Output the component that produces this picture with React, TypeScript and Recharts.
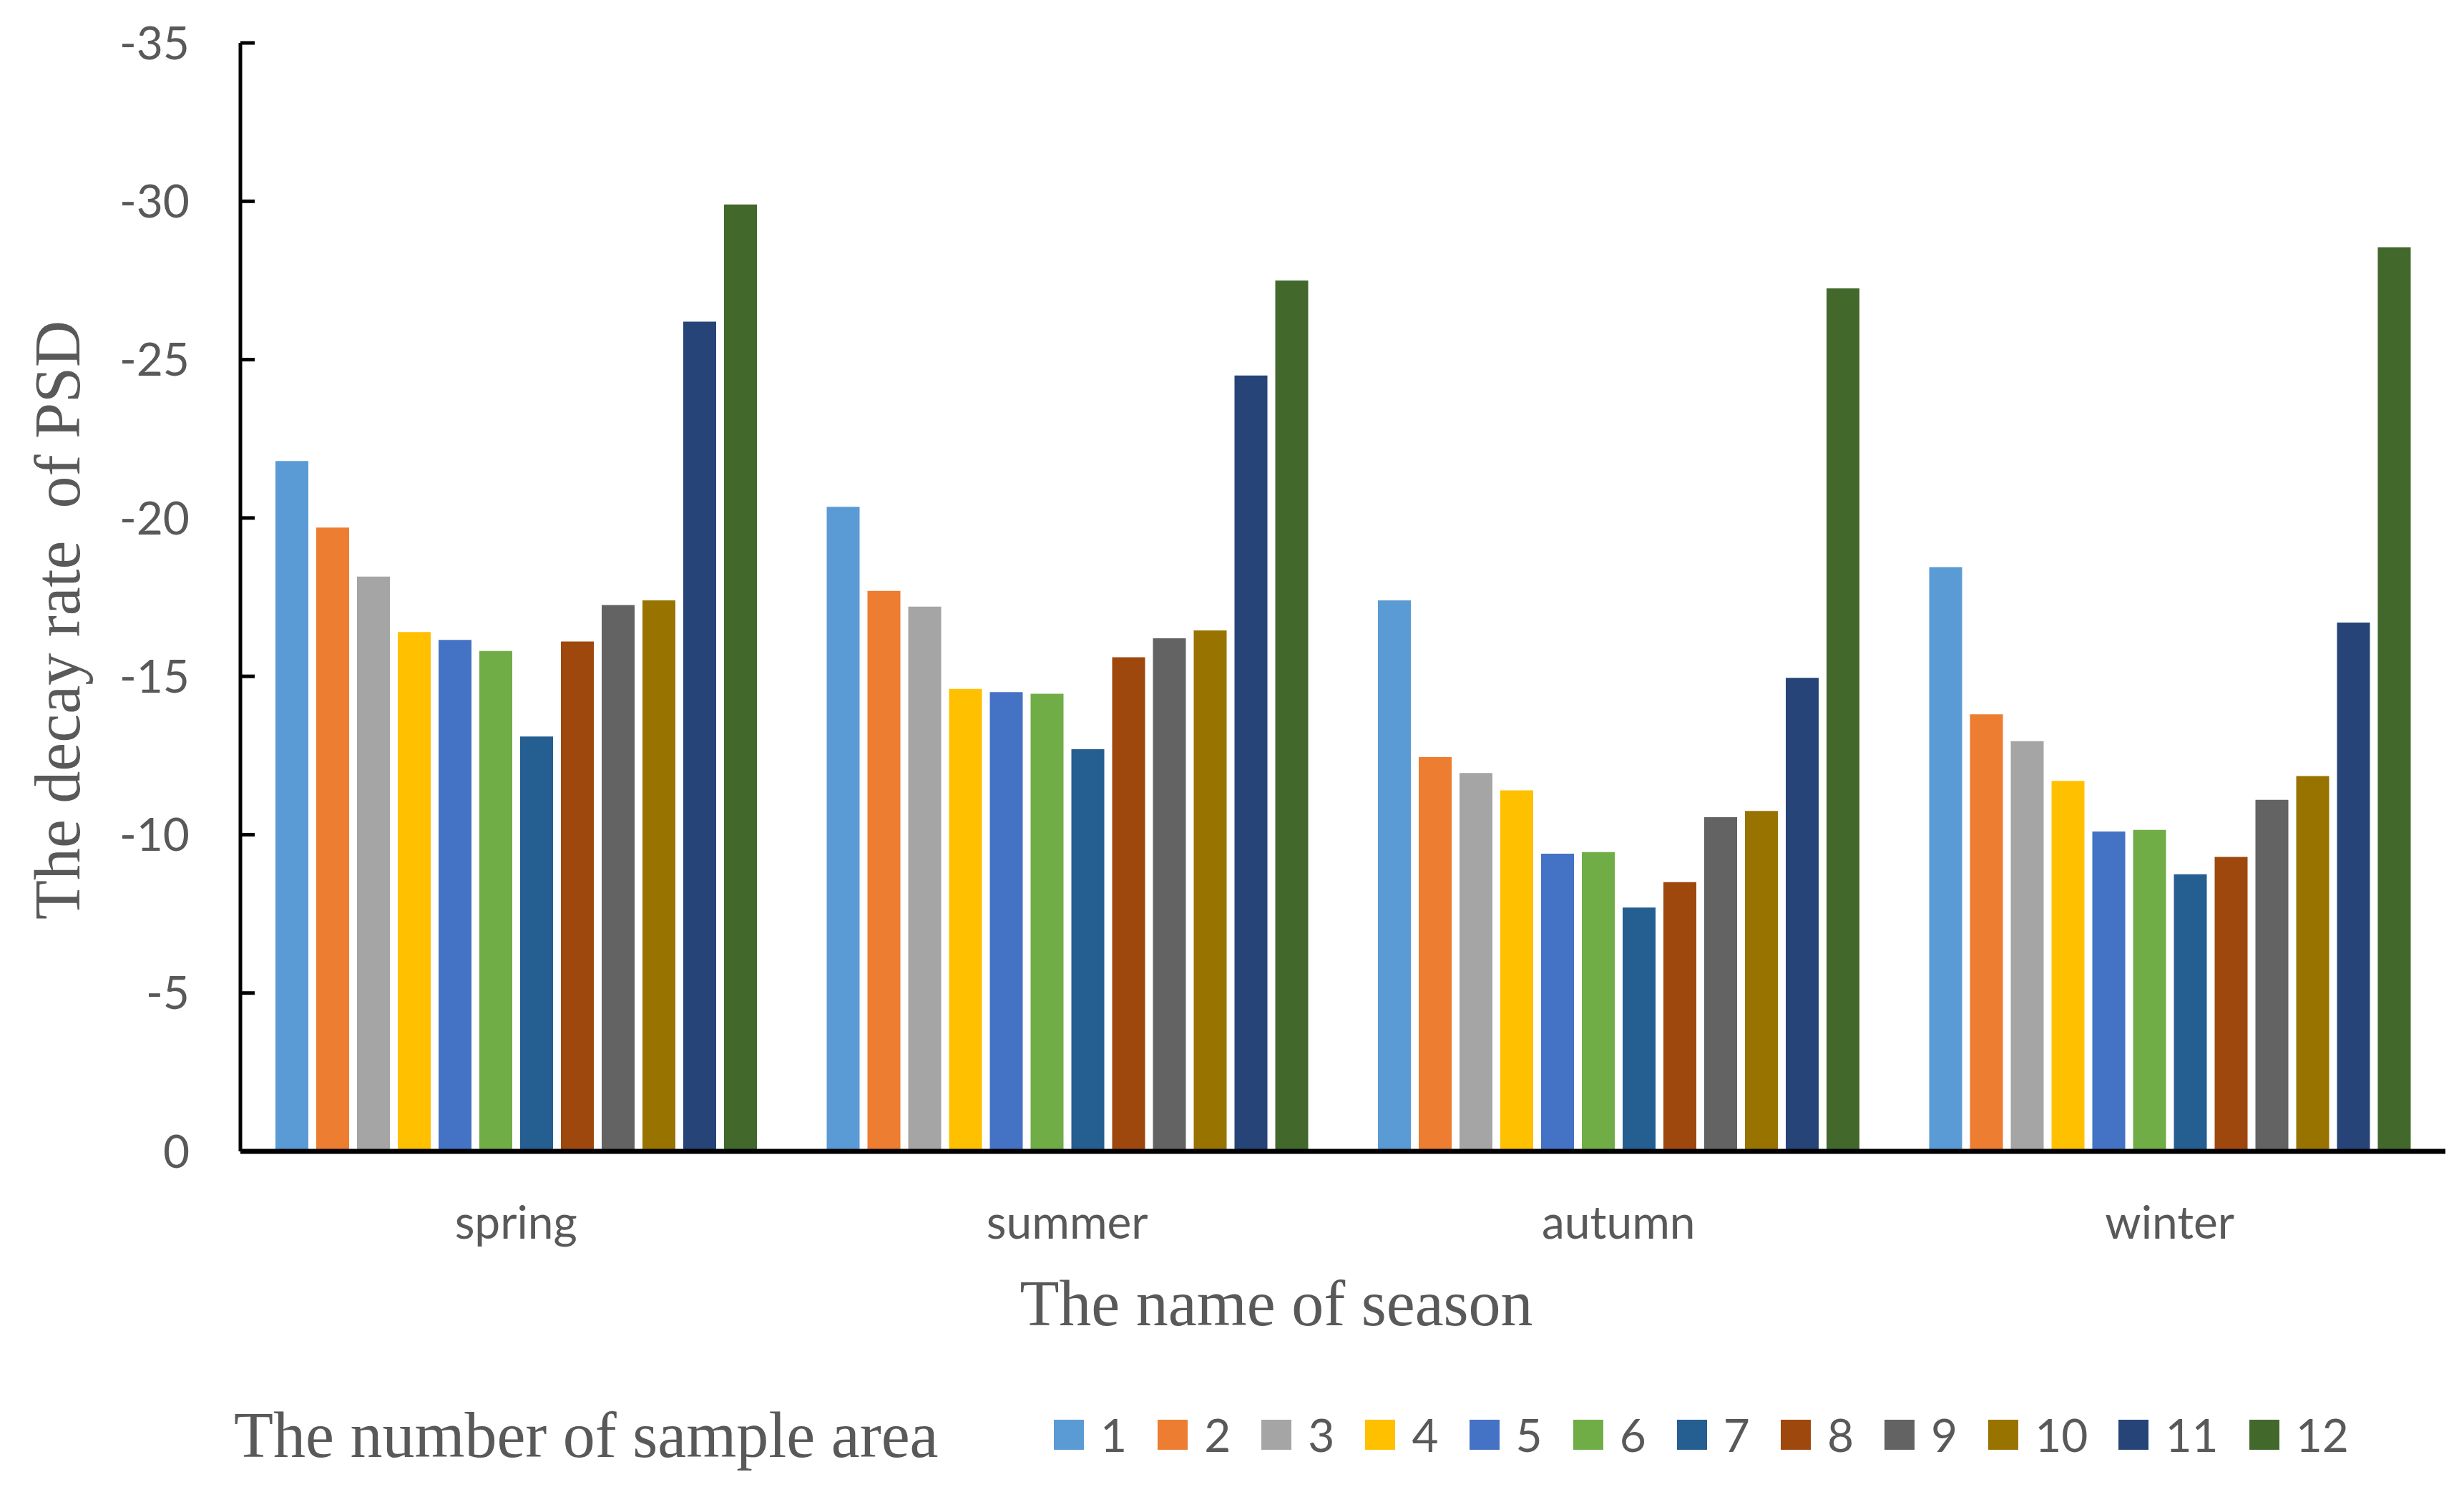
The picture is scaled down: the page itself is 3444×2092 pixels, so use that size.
import React from "react";
import { BarChart, Bar, XAxis, YAxis, Legend, Label } from "recharts";

const seasons = ["spring", "summer", "autumn", "winter"];
const sampleAreas = ["1", "2", "3", "4", "5", "6", "7", "8", "9", "10", "11", "12"];
const areaColors = [
  "#5B9BD5", "#ED7D31", "#A5A5A5", "#FFC000", "#4472C4", "#70AD47",
  "#255E91", "#9E480E", "#636363", "#997300", "#264478", "#43682B",
];
const springValues = [-21.8, -19.7, -18.15, -16.4, -16.15, -15.8, -13.1, -16.1, -17.25, -17.4, -26.2, -29.9];
const summerValues = [-20.35, -17.7, -17.2, -14.6, -14.5, -14.45, -12.7, -15.6, -16.2, -16.45, -24.5, -27.5];
const autumnValues = [-17.4, -12.45, -11.95, -11.4, -9.4, -9.45, -7.7, -8.5, -10.55, -10.75, -14.95, -27.25];
const winterValues = [-18.45, -13.8, -12.95, -11.7, -10.1, -10.15, -8.75, -9.3, -11.1, -11.85, -16.7, -28.55];
const yTicks = [-35, -30, -25, -20, -15, -10, -5, 0];

const seasonValues = [springValues, summerValues, autumnValues, winterValues];
const data = seasons.map((season, i) => {
  const row: Record<string, string | number> = { season };
  sampleAreas.forEach((a, j) => {
    row["a" + a] = seasonValues[i][j];
  });
  return row;
});

const TEXT = "#595959";
const SANS = "Lato, 'Open Sans', sans-serif";
const SERIF = "'Liberation Serif', 'DejaVu Serif', serif";

const LegendContent = () => (
  <div style={{ position: "relative", width: 3444, height: 90 }}>
    <div
      style={{
        position: "absolute",
        left: 327,
        top: 0,
        height: 90,
        display: "flex",
        alignItems: "center",
        fontFamily: SERIF,
        fontSize: 90,
        color: TEXT,
        whiteSpace: "nowrap",
      }}
    >
      The number of sample area
    </div>
    <div
      style={{
        position: "absolute",
        left: 1473,
        top: 0,
        height: 90,
        display: "flex",
        alignItems: "center",
      }}
    >
      {sampleAreas.map((a, i) => (
        <div key={a} style={{ display: "flex", alignItems: "center", marginRight: 43 }}>
          <div style={{ width: 42, height: 42, background: areaColors[i], marginRight: 23 }} />
          <span style={{ fontFamily: SANS, fontSize: 64, color: TEXT, lineHeight: "64px" }}>{a}</span>
        </div>
      ))}
    </div>
  </div>
);

export default function App() {
  return (
    <div style={{ position: "absolute", left: 0, top: 0, width: 3444, height: 2092, background: "#fff" }}>
      <BarChart
        width={3444}
        height={2092}
        data={data}
        margin={{ top: 60, right: 26, bottom: 283, left: 0 }}
        barCategoryGap={49}
        barGap={11}
      >
        <XAxis
          dataKey="season"
          axisLine={{ stroke: "#000", strokeWidth: 7 }}
          tickLine={false}
          tickSize={6}
          tickMargin={71}
          height={200}
          tick={{ fill: TEXT, fontSize: 64, fontFamily: SANS }}
        >
          <Label
            content={() => (
              <text x={1784} y={1852} textAnchor="middle" fill={TEXT} fontSize={90} fontFamily={SERIF}>
                The name of season
              </text>
            )}
          />
        </XAxis>
        <YAxis
          type="number"
          domain={[-35, 0]}
          ticks={yTicks}
          reversed
          interval={0}
          width={336}
          axisLine={{ stroke: "#000", strokeWidth: 5 }}
          tickLine={{ stroke: "#000", strokeWidth: 5 }}
          tickSize={-20}
          tickMargin={91}
          tick={{ fill: TEXT, fontSize: 64, fontFamily: SANS }}
        >
          <Label
            content={(props: any) => {
              const vb = props.viewBox || { x: 0, y: 60, width: 336, height: 1549 };
              const cx = 80;
              const cy = vb.y + vb.height / 2 + 32;
              return (
                <text
                  x={cx}
                  y={cy}
                  transform={`rotate(-90, ${cx}, ${cy})`}
                  textAnchor="middle"
                  dominantBaseline="central"
                  fill={TEXT}
                  fontSize={90}
                  fontFamily={SERIF}
                  style={{ whiteSpace: "pre" }}
                >
                  {"The decay rate  of PSD"}
                </text>
              );
            }}
          />
        </YAxis>
        {sampleAreas.map((a, i) => (
          <Bar key={a} dataKey={"a" + a} name={a} fill={areaColors[i]} isAnimationActive={false} />
        ))}
        <Legend
          layout="horizontal"
          verticalAlign="middle"
          align="center"
          content={() => <LegendContent />}
          wrapperStyle={{ left: 0, top: 1960, width: 3444, height: 90 }}
        />
      </BarChart>
    </div>
  );
}
